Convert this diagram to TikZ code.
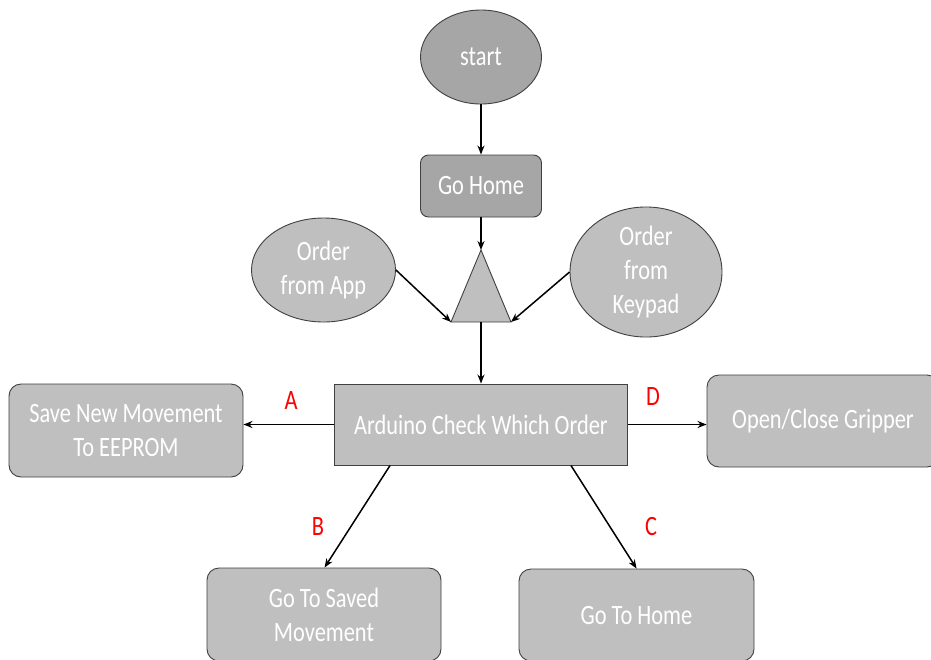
\documentclass[tikz,border=0pt]{standalone}
\usepackage{fontspec}
\setmainfont{Carlito}[FakeStretch=0.8]
\usetikzlibrary{shapes.geometric,arrows.meta,calc}

\definecolor{boxfill}{HTML}{BFBFBF}
\definecolor{darkfill}{HTML}{A6A6A6}
\definecolor{edgegray}{HTML}{404040}

\tikzset{
  base/.style={draw=edgegray, line width=0.9pt, text=white, inner sep=0pt,
    font=\fontsize{28}{34}\selectfont, align=center},
  oval/.style={base, ellipse, fill=boxfill},
  roundbox/.style={base, rectangle, rounded corners=12pt, fill=boxfill},
  squarebox/.style={base, rectangle, fill=boxfill},
  flow/.style={draw=black, line width=1.5pt, -{Stealth[length=9pt,width=7pt]}},
  branch/.style={text=red, font=\fontsize{28}{34}\selectfont},
}

\begin{document}
\begin{tikzpicture}[x=1pt,y=-1pt]
  \useasboundingbox (0,0) rectangle (931,659);
  \clip (0,0) rectangle (931,659);
  \fill[white] (0,0) rectangle (931,659);

  % start and homing
  \node[oval, fill=darkfill, minimum width=121pt, minimum height=94pt] (start) at (481,57) {start};
  \node[roundbox, fill=darkfill, rounded corners=8pt, minimum width=121pt, minimum height=62pt] (home) at (481,186) {Go Home};

  % merge triangle
  \coordinate (tritop) at (481,250);
  \coordinate (trileft) at (451,322);
  \coordinate (triright) at (511,322);
  \coordinate (tribot) at (481,322);
  \draw[draw=edgegray, line width=0.9pt, fill=boxfill] (tritop) -- (triright) -- (trileft) -- cycle;

  % order sources
  \node[oval, minimum width=144pt, minimum height=104pt] (app) at (323.5,270) {Order\\from App};
  \node[oval, minimum width=152pt, minimum height=110pt] (keypad) at (646,272) {Order\\from\\Keypad};

  % decision box
  \node[squarebox, minimum width=293pt, minimum height=81pt] (ard) at (481,424.5) {Arduino Check Which Order};

  % actions
  \node[roundbox, minimum width=234pt, minimum height=93pt] (save) at (126,430.5) {Save New Movement\\To EEPROM};
  \node[roundbox, minimum width=232pt, minimum height=92pt] (grip) at (823,421) {Open/Close Gripper};
  \node[roundbox, minimum width=234pt, minimum height=93pt] (saved) at (324,614.5) {Go To Saved\\Movement};
  \node[roundbox, minimum width=235pt, minimum height=92pt] (gohome) at (636.5,615) {Go To Home};

  % connectors
  \draw[flow] (start) -- (home);
  \draw[flow] (home) -- (tritop);
  \draw[flow] (app.east) -- (trileft);
  \draw[flow] (keypad.west) -- (triright);
  \draw[flow] (tribot) -- (tribot |- ard.north);
  \draw[flow] (ard.west) -- (ard.west -| save.east);
  \draw[flow] (ard.east) -- (ard.east -| grip.west);
  \draw[flow] ($(ard.south west)+(56,0)$) -- ($(saved.north west)+(118,0)$);
  \draw[flow] ($(ard.south east)+(-57,0)$) -- ($(gohome.north west)+(118,0)$);

  % branch letters
  \node[branch] (la) at (291,401) {A};
  \node[branch] (ld) at (653,397) {D};
  \node[branch] (lb) at (318,527) {B};
  \node[branch] (lc) at (651,527) {C};
\end{tikzpicture}
\end{document}
